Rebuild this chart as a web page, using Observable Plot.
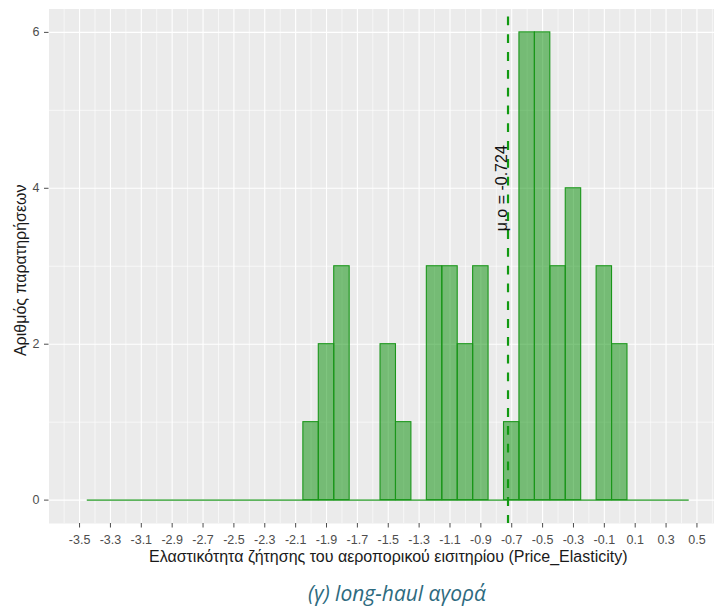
<!DOCTYPE html>
<html>
<head>
<meta charset="utf-8">
<script src="https://cdn.jsdelivr.net/npm/d3@7"></script>
<script src="https://cdn.jsdelivr.net/npm/@observablehq/plot@0.6"></script>
<style>
  body { margin: 0; background: #fff; }
  #wrap { position: relative; width: 714px; height: 610px; overflow: hidden; background: #fff; }
  #chart svg { max-width: none !important; }
  #caption {
    position: absolute; left: 0; top: 580.5px; width: 794px; text-align: center;
    font-family: "Open Sans", sans-serif; font-style: italic; font-size: 21px;
    line-height: 24px; color: #2E6B80;
  }
</style>
</head>
<body>
<div id="wrap">
  <div id="chart"></div>
  <div id="caption">(γ) long-haul αγορά</div>
</div>
<script>
// Histogram of price elasticity, bins of width 0.1 (only non-empty bins listed)
const binCenters = [-2.0, -1.9, -1.8, -1.5, -1.4, -1.2, -1.1, -1.0, -0.9, -0.7, -0.6, -0.5, -0.4, -0.3, -0.1, 0.0];
const binCounts  = [1, 2, 3, 2, 1, 3, 3, 2, 3, 1, 6, 6, 3, 4, 3, 2];
const binWidth = 0.1;
const histRange = [-3.45, 0.45];   // full extent of the binned range (empty bins sit on zero)

const meanValue = -0.724;
const meanLabel = "μ.ο = " + meanValue;

const xTicks = [-3.5, -3.3, -3.1, -2.9, -2.7, -2.5, -2.3, -2.1, -1.9, -1.7, -1.5, -1.3, -1.1, -0.9, -0.7, -0.5, -0.3, -0.1, 0.1, 0.3, 0.5];
const xTickLabels = ["-3.5", "-3.3", "-3.1", "-2.9", "-2.7", "-2.5", "-2.3", "-2.1", "-1.9", "-1.7", "-1.5", "-1.3", "-1.1", "-0.9", "-0.7", "-0.5", "-0.3", "-0.1", "0.1", "0.3", "0.5"];
const xMinor = [-3.6, -3.4, -3.2, -3.0, -2.8, -2.6, -2.4, -2.2, -2.0, -1.8, -1.6, -1.4, -1.2, -1.0, -0.8, -0.6, -0.4, -0.2, 0.0, 0.2, 0.4, 0.6];
const yTicks = [0, 2, 4, 6];
const yMinor = [1, 3, 5];

const xTitle = "Ελαστικότητα ζήτησης του αεροπορικού εισιτηρίου (Price_Elasticity)";
const yTitle = "Αριθμός παρατηρήσεων";

const gridColor = "#FFFFFF";
const barFill = "#008B00";
const barStroke = "#1A961A";

const chart = Plot.plot({
  width: 727,
  height: 572,
  marginLeft: 48.5,
  marginRight: 0,
  marginTop: 8.5,
  marginBottom: 49,
  style: { fontFamily: "'Liberation Sans', Arial, sans-serif", fontSize: "12px", background: "transparent", overflow: "visible", maxWidth: "none" },
  x: { domain: [-3.698, 0.698] },
  y: { domain: [-0.3, 6.3] },
  marks: [
    Plot.frame({ fill: "#EBEBEB", stroke: "none" }),
    Plot.ruleY(yMinor, { stroke: gridColor, strokeWidth: 0.6 }),
    Plot.ruleX(xMinor, { stroke: gridColor, strokeWidth: 0.6 }),
    Plot.ruleY(yTicks, { stroke: gridColor, strokeWidth: 1.1 }),
    Plot.ruleX(xTicks, { stroke: gridColor, strokeWidth: 1.1 }),
    // empty bins collapse onto the zero line
    Plot.ruleY([0], { x1: () => histRange[0], x2: () => histRange[1], stroke: "#5DB35D", strokeWidth: 1.6 }),
    Plot.rect(binCounts, {
      x1: (d, i) => binCenters[i] - binWidth / 2,
      x2: (d, i) => binCenters[i] + binWidth / 2,
      y1: () => 0,
      y2: d => d,
      fill: barFill, fillOpacity: 0.5,
      stroke: barStroke, strokeWidth: 1.1
    }),
    Plot.ruleX([meanValue], { stroke: "#119911", strokeWidth: 2.2, strokeDasharray: "8.8,9", strokeDashoffset: -8 }),
    Plot.text([meanLabel], { x: () => meanValue, y: () => 4, text: d => d, rotate: -90, dx: -6, fontSize: 16, fill: "#111" }),
    Plot.axisX(xTicks, {
      tickSize: 4.5, tickPadding: 6.8, fontSize: 12.5, color: "#4D4D4D", label: null,
      tickFormat: d => xTickLabels[xTicks.indexOf(d)]
    }),
    Plot.axisY(yTicks, {
      tickSize: 4.5, tickPadding: 5, fontSize: 12.5, color: "#4D4D4D", label: null,
      tickFormat: d => String(d)
    }),
    Plot.text([xTitle], { frameAnchor: "bottom", dy: 33, lineAnchor: "middle", textAnchor: "middle", text: d => d, fontSize: 16, fill: "#1A1A1A" }),
    Plot.text([yTitle], { frameAnchor: "left", dx: -28, dy: 4, lineAnchor: "middle", textAnchor: "middle", text: d => d, rotate: -90, fontSize: 16, fill: "#1A1A1A" })
  ]
});
document.getElementById("chart").appendChild(chart);
</script>
</body>
</html>
